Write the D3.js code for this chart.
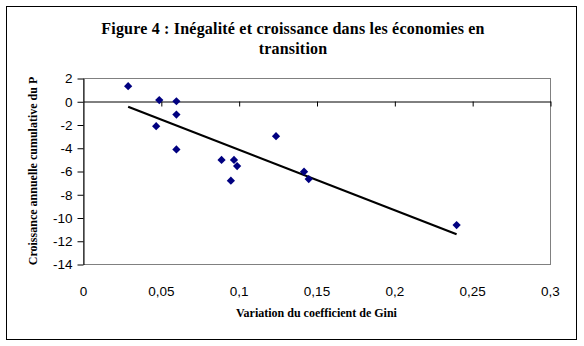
<!DOCTYPE html>
<html>
<head>
<meta charset="utf-8">
<script src="https://cdn.jsdelivr.net/npm/d3@7"></script>
<style>
  html, body { margin: 0; padding: 0; background: #fff; }
  svg { display: block; }
</style>
</head>
<body>
<svg id="chart" width="584" height="346"></svg>
<script>
// Variation of the Gini coefficient vs cumulative annual growth, transition economies
const giniChange = [0.029, 0.049, 0.060, 0.060, 0.047, 0.060, 0.089, 0.097, 0.099, 0.095, 0.124, 0.142, 0.145, 0.240];
const growth     = [1.30, 0.10, 0.00, -1.15, -2.15, -4.15, -5.05, -5.05, -5.57, -6.83, -3.00, -6.06, -6.69, -10.65];
const xTicks = [0, 0.05, 0.1, 0.15, 0.2, 0.25, 0.3];
const yTicks = [2, 0, -2, -4, -6, -8, -10, -12, -14];
const titleLines = ["Figure 4 : Inégalité et croissance dans les économies en", "transition"];
const xTitle = "Variation du coefficient de Gini";
const yTitle = "Croissance annuelle cumulative du P";

const svg = d3.select("#chart");
const plot = { left: 83, right: 550, top: 78, bottom: 264 };

const fr = d3.formatLocale({ decimal: ",", thousands: " ", grouping: [3], currency: ["", " €"], minus: "-" });
const fmt = fr.format("~g");

const x = d3.scaleLinear().domain([0, 0.3]).range([plot.left, plot.right]);
const y = d3.scaleLinear().domain([-14, 2]).range([plot.bottom, plot.top]);

// outer frame
svg.append("rect")
  .attr("x", 6.5).attr("y", 6.5)
  .attr("width", 570).attr("height", 333)
  .attr("fill", "#fff").attr("stroke", "#000").attr("stroke-width", 1);

// title
svg.append("g").selectAll("text").data(titleLines).join("text")
  .attr("x", 293).attr("y", (d, i) => 34 + i * 20)
  .attr("text-anchor", "middle")
  .attr("font-family", "'Liberation Serif', 'Times New Roman', serif")
  .attr("font-weight", "bold").attr("font-size", 16)
  .attr("letter-spacing", 0.2)
  .text(d => d);

// plot area border
svg.append("rect")
  .attr("x", plot.left + 0.5).attr("y", plot.top + 0.5)
  .attr("width", plot.right - plot.left).attr("height", plot.bottom - plot.top)
  .attr("fill", "none").attr("stroke", "#808080").attr("stroke-width", 1);

const tickFont = "'Liberation Sans', Arial, sans-serif";

// y axis
const yAxis = svg.append("g")
  .attr("transform", `translate(${plot.left + 0.5},0.5)`)
  .call(d3.axisLeft(y).tickValues(yTicks).tickSize(6).tickSizeOuter(0).tickPadding(5).tickFormat(fmt));
yAxis.selectAll("path, line").attr("stroke", "#000");
yAxis.selectAll("text").attr("font-family", tickFont).attr("font-size", 13.5).attr("fill", "#000");

// horizontal axis line at zero, ticks downward
const xAxis = svg.append("g")
  .attr("transform", `translate(0.5,${Math.round(y(0)) + 0.5})`)
  .call(d3.axisBottom(x).tickValues(xTicks.slice(1)).tickSize(5).tickSizeOuter(0).tickFormat(""));
xAxis.selectAll("path, line").attr("stroke", "#000");

// x tick labels below the plot
const xLabels = svg.append("g")
  .attr("transform", `translate(0,${plot.bottom})`)
  .call(d3.axisBottom(x).tickValues(xTicks).tickSize(0).tickPadding(22).tickFormat(fmt));
xLabels.select(".domain").remove();
xLabels.selectAll("text").attr("font-family", tickFont).attr("font-size", 13.5).attr("fill", "#000");

// axis titles
svg.append("text")
  .attr("x", (plot.left + plot.right) / 2).attr("y", 317)
  .attr("text-anchor", "middle")
  .attr("font-family", "'Liberation Serif', 'Times New Roman', serif")
  .attr("font-weight", "bold").attr("font-size", 12)
  .text(xTitle);

svg.append("text")
  .attr("transform", `translate(37,${(plot.top + plot.bottom) / 2}) rotate(-90)`)
  .attr("text-anchor", "middle")
  .attr("font-family", "'Liberation Serif', 'Times New Roman', serif")
  .attr("font-weight", "bold").attr("font-size", 12)
  .text(yTitle);

// linear trend line (least squares), from min to max x
const n = giniChange.length;
const mx = d3.mean(giniChange), my = d3.mean(growth);
let sxy = 0, sxx = 0;
for (let i = 0; i < n; i++) {
  sxy += (giniChange[i] - mx) * (growth[i] - my);
  sxx += (giniChange[i] - mx) ** 2;
}
const slope = sxy / sxx, intercept = my - slope * mx;
const [x0, x1] = d3.extent(giniChange);
svg.append("path")
  .datum([x0, x1])
  .attr("d", d3.line().x(d => x(d)).y(d => y(intercept + slope * d)))
  .attr("fill", "none").attr("stroke", "#000").attr("stroke-width", 2.2);

// scatter markers (diamonds)
const pts = giniChange.map((g, i) => ({ g, v: growth[i] }));
svg.append("g").selectAll("path").data(pts).join("path")
  .attr("transform", d => `translate(${x(d.g)},${y(d.v)}) rotate(45)`)
  .attr("d", d3.symbol(d3.symbolSquare, 34))
  .attr("fill", "#000080");
</script>
</body>
</html>
